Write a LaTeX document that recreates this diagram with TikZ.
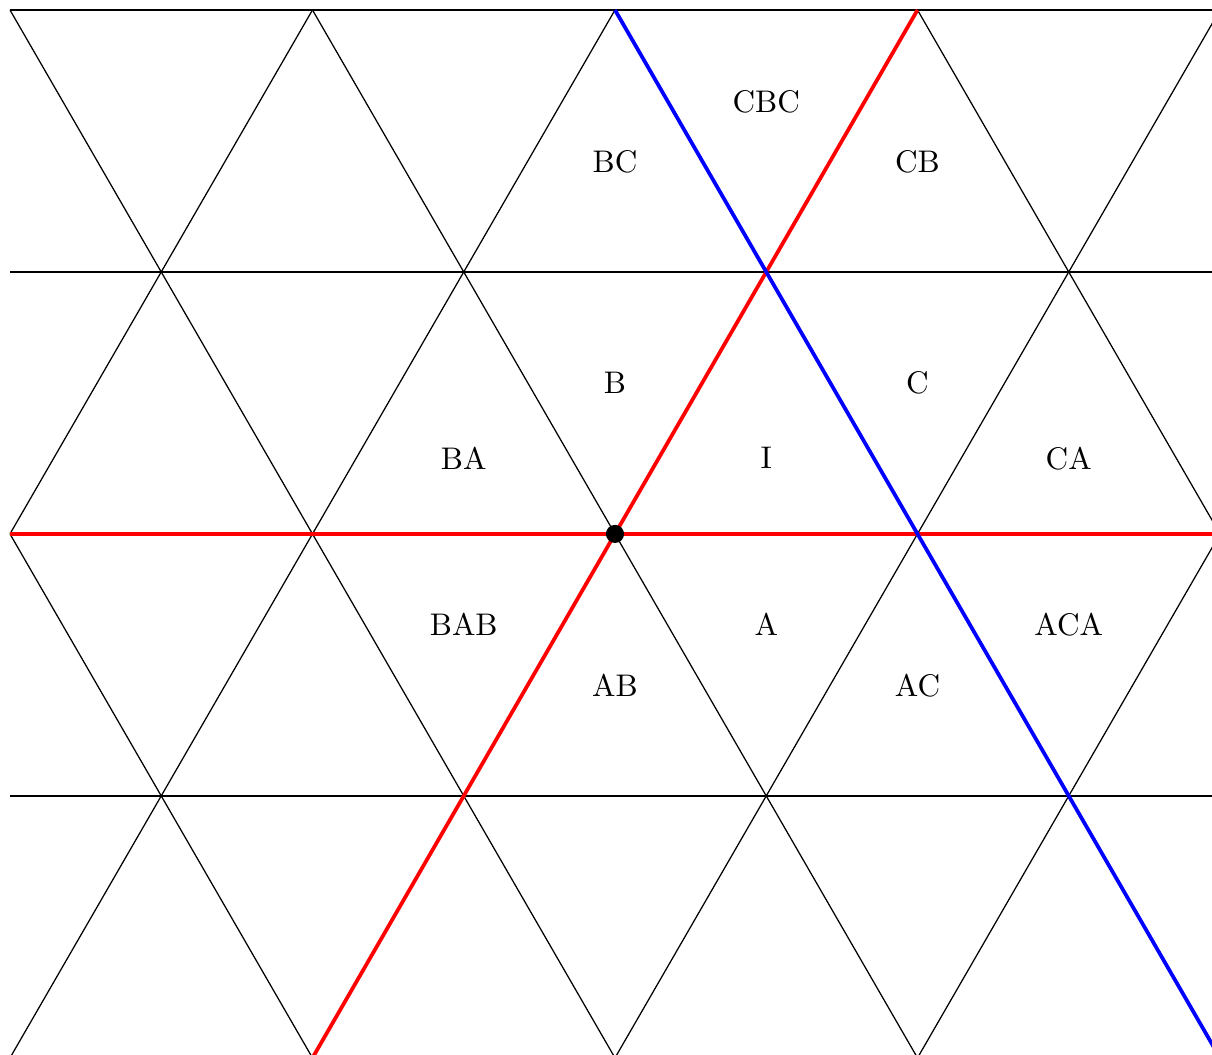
\documentclass[tikz,border=0pt]{standalone}
\begin{document}
\begin{tikzpicture}[x=1.7cm,y=1.7cm,
  gridline/.style={black,line width=0.4pt},
  redline/.style={red,line width=1.2pt},
  blueline/.style={blue,line width=1.2pt},
  lbl/.style={inner sep=0pt,font=\normalsize}]
\useasboundingbox (-4.066,-3.445) rectangle (3.947,3.530);
\begin{scope}
  \clip (-4,-3.4641) rectangle (4,3.4641);
  \foreach \k in {-1,0,1,2}
    \draw[gridline] (-4,\k*1.7320508) -- (4,\k*1.7320508);
  \foreach \m in {-3,...,3} {
    \draw[gridline] (2*\m-2,-3.4641) -- (2*\m+2,3.4641);
    \draw[gridline] (2*\m-2,3.4641) -- (2*\m+2,-3.4641);
  }
  \draw[redline] (-4,0) -- (4,0);
  \draw[redline] (-2,-3.4641) -- (2,3.4641);
  \draw[blueline] (0,3.4641) -- (4,-3.4641);
\end{scope}
\fill[black] (0,0) circle (2.9pt);
\node[lbl] (cbc) at (1,2.86) {CBC};
\node[lbl] (bc) at (0,2.46) {BC};
\node[lbl] (cb) at (2,2.46) {CB};
\node[lbl] (b) at (0,1) {B};
\node[lbl] (c) at (2,1) {C};
\node[lbl] (ba) at (-1,0.5) {BA};
\node[lbl] (i) at (1,0.5) {I};
\node[lbl] (ca) at (3,0.5) {CA};
\node[lbl] (bab) at (-1,-0.6) {BAB};
\node[lbl] (a) at (1,-0.6) {A};
\node[lbl] (aca) at (3,-0.6) {ACA};
\node[lbl] (ab) at (0,-1) {AB};
\node[lbl] (ac) at (2,-1) {AC};
\end{tikzpicture}
\end{document}
